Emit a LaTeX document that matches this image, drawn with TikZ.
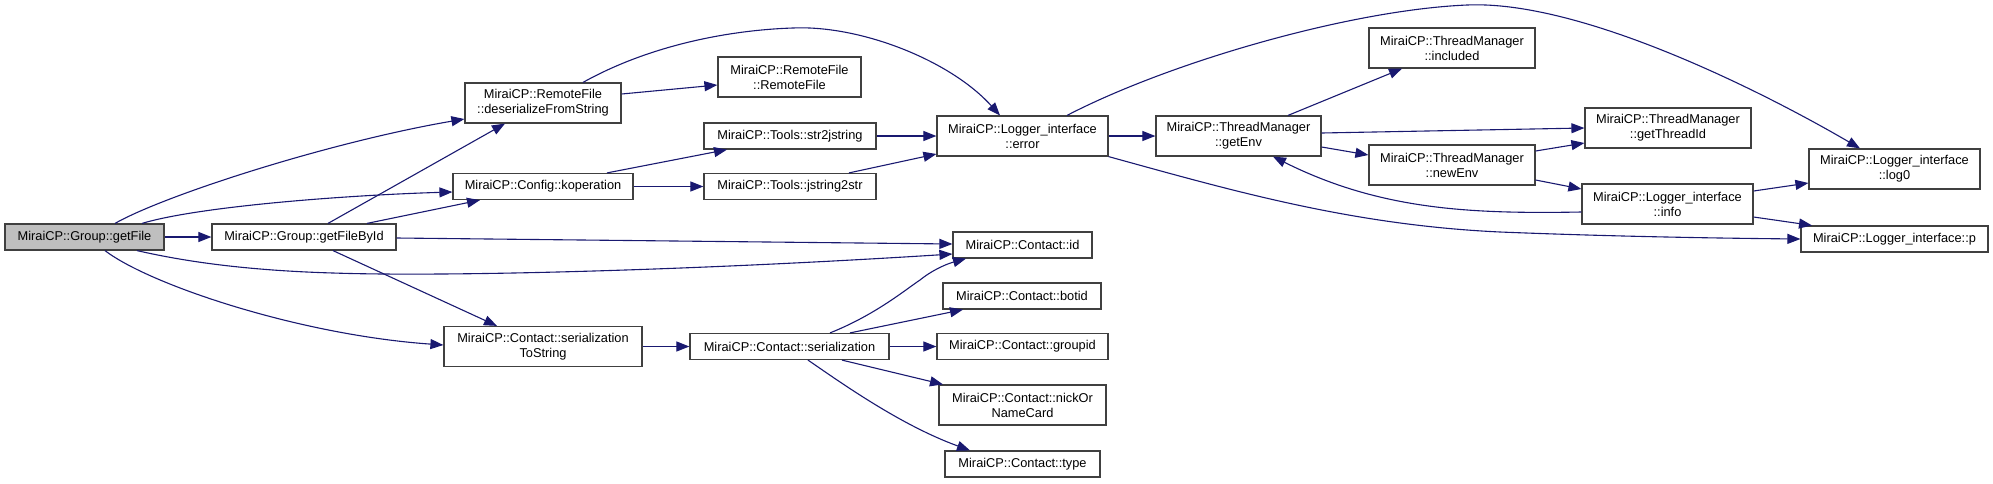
\documentclass[tikz,border=0pt]{standalone}
\usepackage{fontspec}
\setmainfont{Liberation Sans}
\usetikzlibrary{arrows.meta}
\definecolor{edgeblue}{RGB}{25,25,112}
\definecolor{boxline}{RGB}{64,64,64}
\definecolor{rootfill}{RGB}{191,191,191}
\tikzset{
  fnbox/.style={draw=boxline, line width=1.2pt, fill=white, rectangle, inner sep=0pt,
    align=center, font=\fontsize{12.8}{15}\selectfont, minimum height=26pt},
  fnbox2/.style={fnbox, minimum height=40pt},
  rootbox/.style={fnbox, fill=rootfill},
  callarrow/.style={draw=edgeblue, line width=1.1pt, -{Triangle[length=13pt,width=10pt]}}
}
\begin{document}
\begin{tikzpicture}[x=1pt,y=-1pt]
\useasboundingbox (0,0) rectangle (1993,483);
% nodes
\node[rootbox, minimum width=159pt] (getFile) at (84.5,237) {MiraiCP::Group::getFile};
\node[fnbox, minimum width=184pt] (getFileById) at (304,237) {MiraiCP::Group::getFileById};
\node[fnbox2, minimum width=156pt] (deserialize) at (543,103) {MiraiCP::RemoteFile\\::deserializeFromString};
\node[fnbox, minimum width=180pt] (koperation) at (543,186.5) {MiraiCP::Config::koperation};
\node[fnbox2, minimum width=198pt] (sertostr) at (543,346.5) {MiraiCP::Contact::serialization\\ToString};
\node[fnbox2, minimum width=143pt] (remotefile) at (789.5,77) {MiraiCP::RemoteFile\\::RemoteFile};
\node[fnbox, minimum width=172pt] (str2j) at (790,136) {MiraiCP::Tools::str2jstring};
\node[fnbox, minimum width=172pt] (j2str) at (790,186.5) {MiraiCP::Tools::jstring2str};
\node[fnbox, minimum width=199pt] (serial) at (789.5,346.5) {MiraiCP::Contact::serialization};
\node[fnbox2, minimum width=171pt] (error) at (1022.5,136) {MiraiCP::Logger\_interface\\::error};
\node[fnbox, minimum width=139pt] (cid) at (1022.5,245) {MiraiCP::Contact::id};
\node[fnbox, minimum width=158pt] (botid) at (1022,296) {MiraiCP::Contact::botid};
\node[fnbox, minimum width=171pt] (groupid) at (1022.5,346.5) {MiraiCP::Contact::groupid};
\node[fnbox2, minimum width=167pt] (nick) at (1022.5,405) {MiraiCP::Contact::nickOr\\NameCard};
\node[fnbox, minimum width=155pt] (type) at (1022.5,464) {MiraiCP::Contact::type};
\node[fnbox2, minimum width=165pt] (getEnv) at (1238.5,136) {MiraiCP::ThreadManager\\::getEnv};
\node[fnbox2, minimum width=166pt] (included) at (1452,48) {MiraiCP::ThreadManager\\::included};
\node[fnbox2, minimum width=166pt] (newEnv) at (1452,165) {MiraiCP::ThreadManager\\::newEnv};
\node[fnbox2, minimum width=166pt] (threadid) at (1668,128) {MiraiCP::ThreadManager\\::getThreadId};
\node[fnbox2, minimum width=171pt] (info) at (1667.5,204) {MiraiCP::Logger\_interface\\::info};
\node[fnbox2, minimum width=171pt] (log0) at (1894.5,169) {MiraiCP::Logger\_interface\\::log0};
\node[fnbox, minimum width=187pt] (p) at (1894.5,239) {MiraiCP::Logger\_interface::p};
% edges
\draw[callarrow] (115,0 |- getFile.north) .. controls (165,195) and (330,142) .. (0,119 -| deserialize.west);
\draw[callarrow] (142,0 |- getFile.north) .. controls (200,206) and (350,195) .. (0,192 -| koperation.west);
\draw[callarrow] (getFile.east) -- (getFileById.west);
\draw[callarrow] (137,0 |- getFile.south) .. controls (170,258) and (230,270) .. (333,273) .. controls (450,277) and (700,270) .. (0,254 -| cid.west);
\draw[callarrow] (105,0 |- getFile.south) .. controls (150,285) and (300,335) .. (0,345 -| sertostr.west);
\draw[callarrow] (328,0 |- getFileById.north) -- (505,0 |- deserialize.south);
\draw[callarrow] (367,0 |- getFileById.north) -- (480,0 |- koperation.south);
\draw[callarrow] (0,238 -| getFileById.east) -- (0,244 -| cid.west);
\draw[callarrow] (333,0 |- getFileById.south) -- (497,0 |- sertostr.north);
\draw[callarrow] (0,94 -| deserialize.east) -- (0,85 -| remotefile.west);
\draw[callarrow] (583,0 |- deserialize.north) .. controls (650,45) and (730,30) .. (793,28) .. controls (860,25) and (950,60) .. (1000,0 |- error.north);
\draw[callarrow] (607,0 |- koperation.north) -- (727,0 |- str2j.south);
\draw[callarrow] (koperation.east) -- (j2str.west);
\draw[callarrow] (str2j.east) -- (error.west);
\draw[callarrow] (849,0 |- j2str.north) -- (0,154 -| error.west);
\draw[callarrow] (error.east) -- (getEnv.west);
\draw[callarrow] (1067,0 |- error.north) .. controls (1170,62) and (1350,10) .. (1467,5) .. controls (1580,0) and (1760,90) .. (1860,0 |- log0.north);
\draw[callarrow] (error.south east) .. controls (1230,190) and (1350,225) .. (1500,232) .. controls (1600,236) and (1700,238) .. (0,239 -| p.west);
\draw[callarrow] (1288,0 |- getEnv.north) -- (1402,0 |- included.south);
\draw[callarrow] (0,133 -| getEnv.east) -- (0,128 -| threadid.west);
\draw[callarrow] (0,147 -| getEnv.east) -- (0,155 -| newEnv.west);
\draw[callarrow] (0,151 -| newEnv.east) -- (0,143 -| threadid.west);
\draw[callarrow] (0,180 -| newEnv.east) -- (0,189 -| info.west);
\draw[callarrow] (0,212 -| info.west) .. controls (1470,214) and (1380,210) .. (1273,0 |- getEnv.south);
\draw[callarrow] (0,191 -| info.east) -- (0,183 -| log0.west);
\draw[callarrow] (0,217 -| info.east) -- (1812,0 |- p.north);
\draw[callarrow] (sertostr.east) -- (serial.west);
\draw[callarrow] (830,0 |- serial.north) .. controls (875,315) and (905,290) .. (920,280) .. controls (935,268) and (950,263) .. (966,0 |- cid.south);
\draw[callarrow] (850,0 |- serial.north) -- (963,0 |- botid.south);
\draw[callarrow] (serial.east) -- (groupid.west);
\draw[callarrow] (842,0 |- serial.south) -- (943,0 |- nick.north);
\draw[callarrow] (808,0 |- serial.south) .. controls (840,382) and (900,425) .. (970,0 |- type.north);
\end{tikzpicture}
\end{document}
